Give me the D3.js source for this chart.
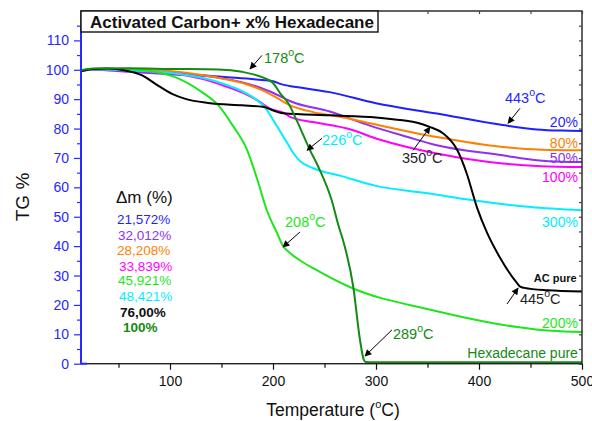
<!DOCTYPE html>
<html>
<head>
<meta charset="utf-8">
<script src="https://cdn.jsdelivr.net/npm/d3@7"></script>
<style>
  body { margin: 0; background: #fff; }
  text { font-family: Arial, "Liberation Sans", Helvetica, sans-serif; }
</style>
</head>
<body>
<svg id="chart" width="592" height="421"></svg>
<script>
// TG curves: [temperature °C, TG %]
const tg20 = [[13.6,99.6],[25,100.2],[50,100],[100,99],[150,97.6],[190,96.5],[200,96.1],[207,95.2],[216,94.5],[226,94],[255,92.4],[300,88.6],[359,85.1],[423,81.2],[456,79.7],[480,79.3],[500,79.2]];
const tg50 = [[13.6,99.6],[25,100],[60,99.3],[100,98.5],[142,97.5],[175,95.3],[197,92.6],[207,91],[217,89.3],[255,85.8],[294,81],[330,77.2],[359,74.3],[423,70.9],[456,69.2],[480,68.7],[500,68.6]];
const tg80 = [[13.6,99.6],[25,100.3],[60,100.2],[100,99.6],[142,97.6],[175,95],[190,93],[204,90.4],[216,88],[239,85.6],[265,84],[294,81.8],[359,77.1],[423,73.7],[460,72.8],[500,72.6]];
const tg100 = [[13.6,99.6],[25,100.2],[60,99.8],[100,98.8],[130,97],[153,94.5],[175,91.5],[185,89.6],[197,86.8],[210,85.4],[217,83.9],[239,82.2],[272,80],[304,76.2],[359,71.5],[423,68.1],[460,67.2],[500,66.9]];
const tg300 = [[13.6,99.6],[25,100.2],[60,99.8],[100,99],[137,96.8],[160,94.2],[175,91.8],[185,89.5],[192,87.3],[200,83],[207,79],[214,75],[220,71.5],[226,69],[239,66.5],[265,64],[300,60.5],[350,58],[394,55.6],[450,53.3],[500,52.2]];
const tg200 = [[13.6,99.6],[25,100.3],[50,100.3],[80,99.6],[105,97.5],[131,92.4],[147,87.9],[161,81],[175,72.6],[185,62.4],[194,52.2],[204,44.4],[209,40.5],[217,37.5],[226,35.2],[239,32.5],[275,26],[355,18.2],[437,12.5],[470,11.2],[500,10.8]];
const tgAC = [[13.6,99.5],[25,100.3],[40,100.4],[56,99.8],[73,98.1],[88,94.7],[102,91.8],[115,90.1],[137,88.7],[170,87.9],[190,87.4],[204,85.7],[210,85.2],[255,84.5],[300,83.8],[326,82.8],[340,82],[352,80.6],[365,78.4],[379,72.6],[388,64.8],[398,53.2],[408,44.4],[420,36.3],[437,27.4],[440,26.2],[444,25.8],[466,25],[500,24.6]];
const tgHex = [[13.6,99.8],[25,100.4],[60,100.5],[100,100.3],[147,100.1],[170,99.3],[190,97.4],[200,95.5],[207,92],[215,88.5],[223,82.8],[236,72.6],[244,67],[257,55.6],[264,46.5],[268,42],[278,26],[284.5,8],[288,1.5],[290,0.6],[300,0.5],[500,0.5]];

const seriesColors = ["#1f1fff","#9030f0","#ff8000","#ff00ff","#00eeff","#1ee61e","#000000","#138a13"];
const seriesData = [tg20, tg50, tg80, tg100, tg300, tg200, tgAC, tgHex];
const endLabels = ["20%","50%","80%","100%","300%","200%","AC pure","Hexadecane pure"];
const endLabelY = [80.4, 68.2, 73.3, 61.8, 46.5, 12.1, 27.7, 1.9];

const massLossLabels = ["21,572%","32,012%","28,208%","33,839%","45,921%","48,421%","76,00%","100%"];
const massLossColors = ["#1f1fff","#9030f0","#ff8000","#ff00ff","#1ee61e","#00eeff","#000000","#138a13"];

const xTicks = [100,200,300,400,500];
const xMinorTicks = [50,150,250,350,450];
const yTicks = [0,10,20,30,40,50,60,70,80,90,100,110];
const yMinorTicks = [5,15,25,35,45,55,65,75,85,95,105,115];

// Temperature annotations: tip and tail of arrow plus label anchor (data coords)
const annotations = [
  {num:"178", color:"#138a13", tip:[177.7,100.3], tail:[189.3,104.9], at:[191.3,102.3]},
  {num:"226", color:"#00eeff", tip:[233,72.6], tail:[247.6,76.7], at:[247.6,74.3]},
  {num:"350", color:"#000000", tip:[352.4,80.5], tail:[336,72.6], at:[325.3,68.2]},
  {num:"443", color:"#1f1fff", tip:[428.2,81.8], tail:[439.8,86.9], at:[425.2,88.6]},
  {num:"208", color:"#1ee61e", tip:[209.7,39.7], tail:[226.2,44.8], at:[211.7,46.6]},
  {num:"289", color:"#138a13", tip:[289.3,2.6], tail:[315.5,11.5], at:[316.5,8.4]},
  {num:"445", color:"#000000", tip:[437.9,25.7], tail:[427.2,20.3], at:[439.8,20.3]}
];

const svg = d3.select("#chart");
const L = 81, R = 582, T = 11, B = 363.7;
const axisBlue = "#2828ff";

const x = d3.scaleLinear().domain([13.6, 500]).range([L, R]);
const y = d3.scaleLinear().domain([0, 120]).range([B, T]);

svg.append("rect").attr("width", 592).attr("height", 421).attr("fill", "#fff");

const defs = svg.append("defs");
defs.append("clipPath").attr("id", "plot")
  .append("rect").attr("x", L).attr("y", T).attr("width", R - L).attr("height", B - T);
defs.append("marker").attr("id", "head")
  .attr("viewBox", "0 0 10 10").attr("refX", 9).attr("refY", 5)
  .attr("markerWidth", 9).attr("markerHeight", 7).attr("markerUnits", "userSpaceOnUse")
  .attr("orient", "auto")
  .append("path").attr("d", "M0,0 L10,5 L0,10 z").attr("fill", "#000");

// curves
const line = d3.line().x(d => x(d[0])).y(d => y(d[1])).curve(d3.curveMonotoneX);
svg.append("g").attr("clip-path", "url(#plot)")
  .selectAll("path").data(seriesData).join("path")
  .attr("d", line)
  .attr("fill", "none")
  .attr("stroke", (d, i) => seriesColors[i])
  .attr("stroke-width", 2)
  .attr("stroke-linejoin", "round");

// frame
svg.append("rect").attr("x", L).attr("y", T).attr("width", R - L).attr("height", B - T)
  .attr("fill", "none").attr("stroke", "#222").attr("stroke-width", 1.4);

function styleAxis(g, color) {
  g.select(".domain").remove();
  g.selectAll("line").attr("stroke", color).attr("stroke-width", 1.2);
  g.selectAll("text").attr("fill", color).style("font-size", "14px");
}

// bottom axis
svg.append("g").attr("transform", `translate(0,${B})`)
  .call(d3.axisBottom(x).tickValues(xTicks).tickSize(6).tickPadding(6).tickFormat(d3.format("d")))
  .call(g => styleAxis(g, "#111"));
svg.append("g").attr("transform", `translate(0,${B})`)
  .call(d3.axisBottom(x).tickValues(xMinorTicks).tickSize(4).tickFormat(""))
  .call(g => styleAxis(g, "#111"));
// top & right inner ticks
svg.append("g").attr("transform", `translate(0,${T})`)
  .call(d3.axisTop(x).tickValues(xTicks.concat(xMinorTicks)).tickSize(-3).tickFormat(""))
  .call(g => styleAxis(g, "#444"));
svg.append("g").attr("transform", `translate(${R},0)`)
  .call(d3.axisRight(y).tickValues(yTicks.concat(yMinorTicks)).tickSize(-3).tickFormat(""))
  .call(g => styleAxis(g, "#444"));

// left axis (blue)
svg.append("line").attr("x1", L).attr("x2", L).attr("y1", y(0)).attr("y2", y(115))
  .attr("stroke", axisBlue).attr("stroke-width", 2);
svg.append("line").attr("x1", L).attr("x2", L + 6).attr("y1", B).attr("y2", B)
  .attr("stroke", axisBlue).attr("stroke-width", 2);
svg.append("g").attr("transform", `translate(${L},0)`)
  .call(d3.axisLeft(y).tickValues(yTicks).tickSize(7).tickPadding(5))
  .call(g => styleAxis(g, axisBlue));
svg.append("g").attr("transform", `translate(${L},0)`)
  .call(d3.axisLeft(y).tickValues(yMinorTicks).tickSize(4).tickFormat(""))
  .call(g => styleAxis(g, axisBlue));

// axis titles
const xt = svg.append("text").attr("x", 333).attr("y", 416).attr("text-anchor", "middle")
  .style("font-size", "17.5px").attr("fill", "#111");
xt.append("tspan").text("Temperature (");
xt.append("tspan").text("o").style("font-size", "11px").attr("dy", -8);
xt.append("tspan").text("C)").attr("dy", 8);

svg.append("text").attr("transform", "translate(29,197) rotate(-90)")
  .attr("text-anchor", "middle").style("font-size", "19px").attr("fill", "#111").text("TG %");

// title box
svg.append("rect").attr("x", L).attr("y", T).attr("width", 297).attr("height", 21)
  .attr("fill", "#fff").attr("stroke", "#111").attr("stroke-width", 1.4);
svg.append("text").attr("x", 90).attr("y", 28).style("font-size", "17px").style("font-weight", "bold")
  .attr("fill", "#111").text("Activated Carbon+ x% Hexadecane");

// end-of-curve labels
const endG = svg.append("g");
endLabels.forEach((t, i) => {
  const isAC = t === "AC pure";
  endG.append("text")
    .attr("x", isAC ? x(474) : x(496))
    .attr("y", y(endLabelY[i]))
    .attr("text-anchor", isAC ? "middle" : "end")
    .style("font-size", isAC ? "11px" : "14px")
    .style("font-weight", isAC ? "bold" : "normal")
    .attr("fill", seriesColors[i] === "#000000" ? "#111" : seriesColors[i])
    .text(t);
});

// temperature annotations with arrows
annotations.forEach(a => {
  svg.append("line")
    .attr("x1", x(a.tail[0])).attr("y1", y(a.tail[1]))
    .attr("x2", x(a.tip[0])).attr("y2", y(a.tip[1]))
    .attr("stroke", "#000").attr("stroke-width", 1)
    .attr("marker-end", "url(#head)");
  const t = svg.append("text").attr("x", x(a.at[0])).attr("y", y(a.at[1]))
    .style("font-size", "14.5px").attr("fill", a.color === "#000000" ? "#222" : a.color);
  t.append("tspan").text(a.num);
  t.append("tspan").text("o").style("font-size", "10.5px").attr("dy", -7);
  t.append("tspan").text("C").attr("dy", 7);
});

// mass loss list
svg.append("text").attr("x", 116).attr("y", 203).style("font-size", "17px").attr("fill", "#111").text("Δm (%)");
const massY = [224, 239.5, 255, 270.5, 285, 301, 317, 332];
const massX = [117, 118, 117, 119, 118, 119, 120, 123];
massLossLabels.forEach((t, i) => {
  svg.append("text").attr("x", massX[i]).attr("y", massY[i])
    .style("font-size", "13.5px")
    .style("font-weight", i >= 6 ? "bold" : "normal")
    .attr("fill", massLossColors[i] === "#000000" ? "#111" : massLossColors[i])
    .text(t);
});
</script>
</body>
</html>
